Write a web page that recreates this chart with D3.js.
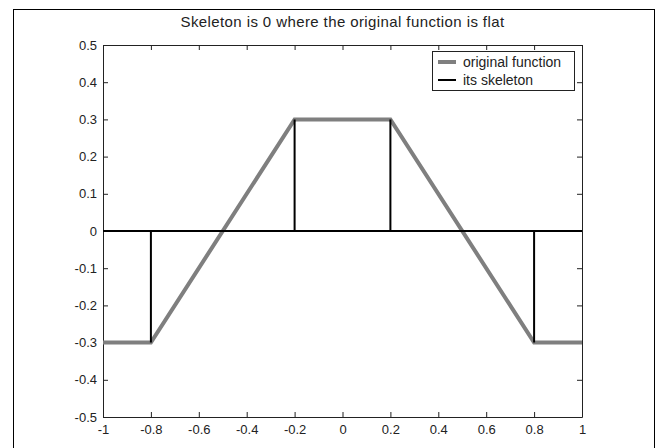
<!DOCTYPE html>
<html>
<head>
<meta charset="utf-8">
<script src="https://cdn.jsdelivr.net/npm/d3@7"></script>
<style>
  body { margin: 0; background: #fff; }
  text { font-family: "Liberation Sans", Arial, sans-serif; fill: #222; }
</style>
</head>
<body>
<div id="chart"></div>
<script>
// original function (gray) and its skeleton (black)
const origX = [-1, -0.8, -0.2, 0.2, 0.8, 1];
const origY = [-0.3, -0.3, 0.3, 0.3, -0.3, -0.3];

const skelX = [-1, -0.8, -0.8, -0.8, -0.2, -0.2, -0.2, 0.2, 0.2, 0.2, 0.8, 0.8, 0.8, 1];
const skelY = [0, 0, -0.3, 0, 0, 0.3, 0, 0, 0.3, 0, 0, -0.3, 0, 0];

const xTicks = [-1, -0.8, -0.6, -0.4, -0.2, 0, 0.2, 0.4, 0.6, 0.8, 1];
const yTicks = [-0.5, -0.4, -0.3, -0.2, -0.1, 0, 0.1, 0.2, 0.3, 0.4, 0.5];

const seriesNames = ["original function", "its skeleton"];
const seriesColors = ["#7f7f7f", "#000000"];
const seriesWidths = [4, 2];

const width = 663, height = 448;
const plot = { left: 103, right: 582, top: 45, bottom: 417 };

const svg = d3.select("#chart").append("svg")
    .attr("width", width)
    .attr("height", height);

// figure frame
svg.append("rect")
    .attr("x", 13.5).attr("y", 9.5)
    .attr("width", 641).attr("height", 460)
    .attr("fill", "none").attr("stroke", "#000");

const x = d3.scaleLinear().domain([-1, 1]).range([plot.left, plot.right]);
const y = d3.scaleLinear().domain([-0.5, 0.5]).range([plot.bottom, plot.top]);

const fmt = d => d === 0 ? "0" : String(+d.toFixed(1));

// axes, ticks pointing inwards like matlab
const axes = [
    { ax: d3.axisBottom(x), tr: `translate(0,${plot.bottom})`, labels: true },
    { ax: d3.axisTop(x), tr: `translate(0,${plot.top})`, labels: false },
    { ax: d3.axisLeft(y), tr: `translate(${plot.left},0)`, labels: true },
    { ax: d3.axisRight(y), tr: `translate(${plot.right},0)`, labels: false }
];
axes.forEach((a, i) => {
    const isX = i < 2;
    a.ax.tickValues(isX ? xTicks : yTicks)
        .tickSizeInner(-5).tickSizeOuter(0)
        .tickFormat(a.labels ? fmt : "");
    const g = svg.append("g").attr("transform", a.tr).call(a.ax);
    g.select(".domain").attr("stroke", "#222");
    g.selectAll(".tick line").attr("stroke", "#222");
    g.selectAll(".tick text")
        .style("font-size", "13px")
        .style("font-family", "Liberation Sans, Arial, sans-serif")
        .attr("fill", "#222");
    if (i === 0) g.selectAll(".tick text").attr("y", 8).attr("dy", "0.71em");
    if (i === 2) g.selectAll(".tick text").attr("x", -6);
});

const line = d3.line().x(d => x(d[0])).y(d => y(d[1]));

svg.append("path")
    .datum(d3.zip(origX, origY))
    .attr("d", line)
    .attr("fill", "none")
    .attr("stroke", seriesColors[0])
    .attr("stroke-width", seriesWidths[0]);

svg.append("path")
    .datum(d3.zip(skelX, skelY))
    .attr("d", line)
    .attr("fill", "none")
    .attr("stroke", seriesColors[1])
    .attr("stroke-width", seriesWidths[1]);

// title
svg.append("text")
    .attr("x", (plot.left + plot.right) / 2)
    .attr("y", 27)
    .attr("text-anchor", "middle")
    .style("font-size", "15px")
    .style("letter-spacing", "0.4px")
    .text("Skeleton is 0 where the original function is flat");

// legend
const lg = svg.append("g").attr("transform", "translate(432,51)");
lg.append("rect")
    .attr("x", 0.5).attr("y", 0.5)
    .attr("width", 142).attr("height", 39)
    .attr("fill", "#fff").attr("stroke", "#222");
seriesNames.forEach((n, i) => {
    const yy = 11 + i * 18;
    lg.append("line")
        .attr("x1", 6).attr("x2", 24)
        .attr("y1", yy).attr("y2", yy)
        .attr("stroke", seriesColors[i])
        .attr("stroke-width", seriesWidths[i]);
    lg.append("text")
        .attr("x", 31).attr("y", yy)
        .attr("dy", "0.35em")
        .style("font-size", "14px")
        .text(n);
});
</script>
</body>
</html>
